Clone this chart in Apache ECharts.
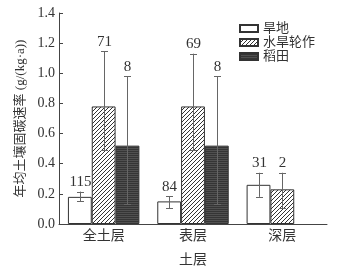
<!DOCTYPE html>
<html><head><meta charset="utf-8">
<script src="https://cdn.jsdelivr.net/npm/echarts@6/dist/echarts.min.js"></script>
<style>html,body{margin:0;padding:0;background:#fff}#c{width:355px;height:272px}</style>
</head><body><div id="c"></div>
<script>
var categories = ['全土层', '表层', '深层'];
var seriesNames = ['旱地', '水旱轮作', '稻田'];
var yTicks = [0, 0.2, 0.4, 0.6, 0.8, 1.0, 1.2, 1.4];

var dryland = [0.18, 0.15, 0.26];
var drylandLow = [0.15, 0.105, 0.18];
var drylandHigh = [0.215, 0.185, 0.34];
var drylandN = [115, 84, 31];

var rotation = [0.78, 0.78, 0.23];
var rotationLow = [0.49, 0.49, 0.105];
var rotationHigh = [1.145, 1.13, 0.34];
var rotationN = [71, 69, 2];

var paddy = [0.52, 0.52, null];
var paddyLow = [0.13, 0.13, null];
var paddyHigh = [0.98, 0.98, null];
var paddyN = [8, 8, null];

function hatchPattern() {
  var c = document.createElement('canvas'); c.width = 4; c.height = 4;
  var g = c.getContext('2d');
  g.fillStyle = '#ffffff'; g.fillRect(0, 0, 4, 4);
  g.strokeStyle = '#333333'; g.lineWidth = 1;
  g.beginPath(); g.moveTo(-1, 5); g.lineTo(5, -1); g.stroke();
  return c;
}
function darkPattern() {
  var c = document.createElement('canvas'); c.width = 4; c.height = 2;
  var g = c.getContext('2d');
  g.fillStyle = '#353535'; g.fillRect(0, 0, 4, 2);
  g.fillStyle = '#505050'; g.fillRect(0, 0, 4, 1);
  return c;
}

var serif = '"Liberation Serif", "Noto Sans CJK SC", serif';
var fills = ['#ffffff', {image: hatchPattern(), repeat: 'repeat'}, {image: darkPattern(), repeat: 'repeat'}];
var values = [dryland, rotation, paddy];
var lows = [drylandLow, rotationLow, paddyLow];
var highs = [drylandHigh, rotationHigh, paddyHigh];
var counts = [drylandN, rotationN, paddyN];

var series = [];
for (var s = 0; s < 3; s++) {
  series.push({
    name: seriesNames[s], type: 'bar', data: values[s],
    barGap: '0%', barCategoryGap: '20%',
    itemStyle: {color: fills[s], borderColor: '#333333', borderWidth: 1},
    emphasis: {disabled: true}
  });
}
for (var s2 = 0; s2 < 3; s2++) {
  (function (si) {
    var d = [];
    for (var i = 0; i < categories.length; i++) {
      if (values[si][i] == null) continue;
      d.push([i, lows[si][i], highs[si][i], counts[si][i]]);
    }
    series.push({
      type: 'custom', z: 10, silent: true,
      encode: {x: 0, y: [1, 2]},
      data: d,
      renderItem: function (params, api) {
        var ci = api.value(0);
        var band = api.size([1, 0])[0];
        var bw = band * 0.8 / 3;
        var off = (si - 1) * bw;
        var pLow = api.coord([ci, api.value(1)]);
        var pHigh = api.coord([ci, api.value(2)]);
        var x = Math.round(pLow[0] + off) + 0.5;
        var cap = 3.5;
        var st = {stroke: '#666666', lineWidth: 1};
        return {type: 'group', children: [
          {type: 'line', shape: {x1: x, y1: pLow[1], x2: x, y2: pHigh[1]}, style: st},
          {type: 'line', shape: {x1: x - cap, y1: Math.round(pLow[1]) + 0.5, x2: x + cap, y2: Math.round(pLow[1]) + 0.5}, style: st},
          {type: 'line', shape: {x1: x - cap, y1: Math.round(pHigh[1]) + 0.5, x2: x + cap, y2: Math.round(pHigh[1]) + 0.5}, style: st},
          {type: 'text', x: x, y: pHigh[1] - 2, style: {text: String(api.value(3)), fill: '#333333', font: '15px ' + serif, align: 'center', verticalAlign: 'bottom'}}
        ]};
      }
    });
  })(s2);
}

var chart = echarts.init(document.getElementById('c'));
chart.setOption({
  animation: false,
  backgroundColor: '#ffffff',
  grid: {left: 59, right: 28, top: 13, bottom: 43, containLabel: false},
  legend: {
    data: seriesNames, orient: 'vertical', left: 234, top: 17,
    itemWidth: 18, itemHeight: 7, itemGap: 1, icon: 'rect',
    textStyle: {fontSize: 13, color: '#333333', fontFamily: serif, padding: [0, 0, 0, 0]},
    selectedMode: false
  },
  xAxis: {
    type: 'category', data: categories,
    name: '土层', nameLocation: 'middle', nameGap: 29,
    nameTextStyle: {fontSize: 14, color: '#333333', fontFamily: serif},
    axisLine: {lineStyle: {color: '#444444', width: 1}},
    axisTick: {show: false},
    axisLabel: {fontSize: 14, color: '#333333', fontFamily: serif, margin: 5}
  },
  yAxis: {
    type: 'value', min: 0, max: 1.4, interval: 0.2,
    name: '年均土壤固碳速率 (g/(kg·a))', nameLocation: 'middle', nameGap: 30,
    nameTextStyle: {fontSize: 13, color: '#333333', fontFamily: serif},
    axisLine: {show: true, lineStyle: {color: '#444444', width: 1}},
    axisTick: {show: true, inside: true, length: 4, lineStyle: {color: '#444444'}},
    splitLine: {show: false},
    axisLabel: {fontSize: 14, color: '#333333', fontFamily: serif, margin: 4,
      formatter: function (v) { return v.toFixed(1); }}
  },
  series: series
});
</script></body></html>
